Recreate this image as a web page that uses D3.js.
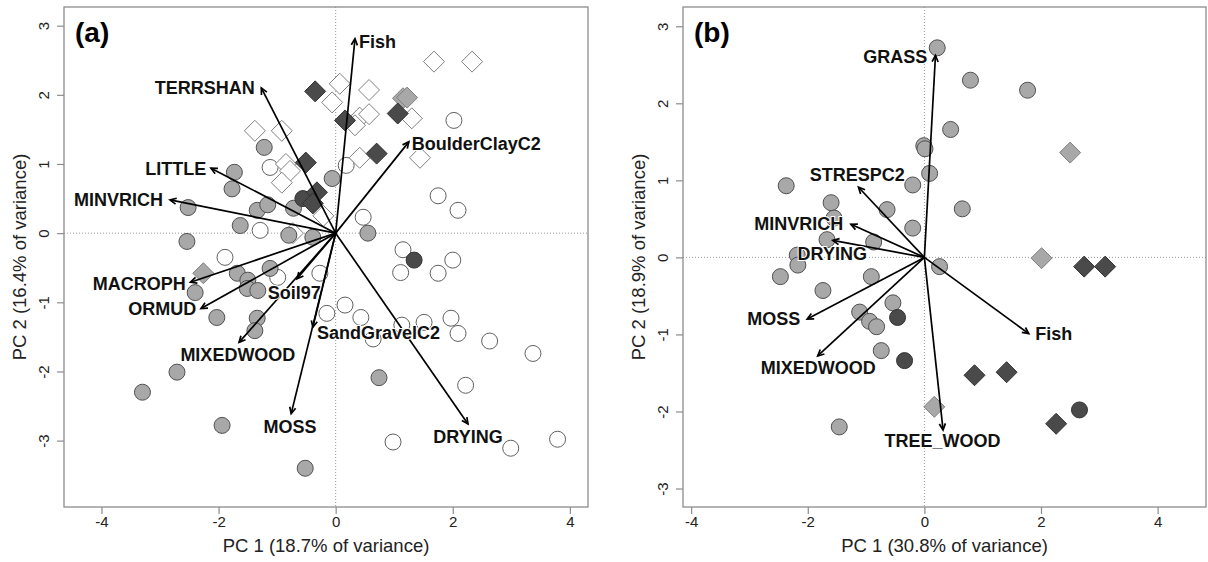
<!DOCTYPE html>
<html>
<head>
<meta charset="utf-8">
<script src="https://cdn.jsdelivr.net/npm/d3@7"></script>
<style>
body { margin: 0; background: #fff; }
svg text { font-family: "Liberation Sans", Arial, sans-serif; }
</style>
</head>
<body>
<div id="chart"></div>
<script>
// ---- panel (a): site scores [PC1, PC2] ----
var aOpenCircle = [[2.02,1.63],[-1.12,0.95],[0.18,0.98],[1.75,0.54],[2.09,0.33],[0.47,0.23],[-1.29,0.04],
	[-1.89,-0.35],[-0.99,-0.64],[-0.27,-0.58],[1.15,-0.24],[1.11,-0.57],[1.75,-0.58],[2.00,-0.39],
	[0.16,-1.04],[-0.15,-1.16],[0.43,-1.22],[1.13,-1.33],[1.51,-1.29],[1.97,-1.23],[2.09,-1.45],
	[0.64,-1.53],[2.63,-1.56],[3.37,-1.74],[2.22,-2.20],[0.98,-3.02],[2.99,-3.11],[3.79,-2.98]];
var aGreyCircle = [[-1.22,1.24],[-1.73,0.88],[-1.77,0.64],[-2.52,0.37],[-1.34,0.33],[-1.16,0.41],[-1.63,0.11],
	[-2.54,-0.12],[-0.06,0.79],[0.55,0.00],[-0.80,-0.03],[-0.39,-0.06],[-0.72,0.36],[-1.68,-0.58],
	[-1.50,-0.68],[-1.51,-0.80],[-1.33,-0.83],[-1.12,-0.51],[-2.40,-0.86],[-2.03,-1.22],[-1.34,-1.23],
	[-1.38,-1.41],[-2.71,-2.01],[-3.30,-2.30],[-1.94,-2.78],[-0.52,-3.40],[0.74,-2.09]];
var aDarkCircle = [[-0.56,0.50],[1.34,-0.39]];
var aOpenDiamond = [[1.68,2.48],[2.33,2.48],[0.07,2.16],[0.57,2.07],[-0.06,1.89],[0.41,1.67],[0.57,1.72],
	[0.33,1.56],[1.30,1.66],[0.41,1.09],[1.44,1.09],[-1.38,1.48],[-0.92,1.48],[-0.85,1.00],
	[-0.78,0.90],[-0.92,0.73],[-0.73,0.00],[-0.21,0.25]];
var aGreyDiamond = [[1.15,1.95],[1.22,1.96],[-2.26,-0.58]];
var aDarkDiamond = [[-0.35,2.05],[0.16,1.63],[1.06,1.73],[0.70,1.15],[-0.51,1.02],[-0.32,0.59],[-0.39,0.43]];

// panel (a): variable loadings (arrow tips)
var aVars  = ["Fish","TERRSHAN","BoulderClayC2","LITTLE","MINVRICH","MACROPH","ORMUD","Soil97","MIXEDWOOD","SandGravelC2","MOSS","DRYING"];
var aLoad1 = [0.33,-1.27,1.25,-2.13,-2.83,-2.48,-2.30,-0.66,-1.65,-0.39,-0.76,2.26];
var aLoad2 = [2.81,2.10,1.32,0.94,0.48,-0.71,-1.09,-0.66,-1.58,-1.36,-2.61,-2.76];

// ---- panel (b) ----
var bGreyCircle = [[0.22,2.72],[-0.01,1.45],[0.01,1.41],[0.09,1.09],[-2.37,0.93],[-0.20,0.94],[-1.60,0.71],
	[-0.64,0.62],[-1.55,0.51],[-0.20,0.38],[-0.87,0.20],[-1.67,0.23],[-2.18,0.03],[-2.17,-0.10],
	[-2.47,-0.25],[-0.91,-0.25],[0.79,2.30],[1.77,2.17],[0.45,1.66],[0.65,0.63],[0.26,-0.12],
	[-1.74,-0.43],[-0.54,-0.59],[-1.11,-0.71],[-0.94,-0.83],[-0.82,-0.90],[-0.74,-1.21],[-1.46,-2.20]];
var bDarkCircle = [[-0.46,-0.78],[-0.34,-1.34],[2.66,-1.98]];
var bGreyDiamond = [[2.50,1.36],[2.01,-0.01],[0.17,-1.94]];
var bDarkDiamond = [[2.74,-0.12],[3.10,-0.12],[0.86,-1.53],[1.41,-1.49],[2.26,-2.16]];

var bVars  = ["GRASS","STRESPC2","MINVRICH","DRYING","MOSS","MIXEDWOOD","TREE_WOOD","Fish"];
var bLoad1 = [0.19,-1.13,-1.26,-1.57,-2.01,-1.83,0.32,1.79];
var bLoad2 = [2.62,0.91,0.43,0.22,-0.80,-1.28,-2.24,-0.99];

var xTicks = [-4,-2,0,2,4];
var yTicks = [-3,-2,-1,0,1,2,3];
var aTitles = ["PC 1 (18.7% of variance)", "PC 2 (16.4% of variance)"];
var bTitles = ["PC 1 (30.8% of variance)", "PC 2 (18.9% of variance)"];

// label placement (data units + anchor), hand tuned to keep clear of arrows
var aLabelPos = [[0.40,2.77,"start"],[-1.38,2.10,"end"],[1.30,1.30,"start"],[-2.21,0.94,"end"],
	[-2.95,0.48,"end"],[-2.56,-0.73,"end"],[-2.38,-1.09,"end"],[-1.16,-0.86,"start"],
	[-1.67,-1.75,"middle"],[-0.32,-1.43,"start"],[-0.78,-2.79,"middle"],[2.26,-2.94,"middle"]];
var bLabelPos = [[0.05,2.61,"end"],[-1.15,1.07,"middle"],[-1.39,0.44,"end"],[-1.58,0.05,"middle"],
	[-2.13,-0.79,"end"],[-1.82,-1.43,"middle"],[0.31,-2.38,"middle"],[1.90,-0.99,"start"]];

var fills = {
	open: {fill: "#ffffff", stroke: "#606060"},
	openD: {fill: "#ffffff", stroke: "#808080"},
	grey: {fill: "#a8a8a8", stroke: "#505050"},
	greyD: {fill: "#a8a8a8", stroke: "#808080"},
	dark: {fill: "#4a4a4a", stroke: "#333333"}
};

var svg = d3.select("#chart").append("svg")
	.attr("width", 1208).attr("height", 562);

function drawPanel(p){
	var x = d3.scaleLinear().domain(p.xlim).range([p.box.left, p.box.right]);
	var y = d3.scaleLinear().domain(p.ylim).range([p.box.bottom, p.box.top]);
	var g = svg.append("g");

	// dotted zero lines
	g.append("line").attr("x1", x(0)).attr("x2", x(0)).attr("y1", p.box.top).attr("y2", p.box.bottom)
		.attr("stroke", "#9a9a9a").attr("stroke-width", 1).attr("stroke-dasharray", "1,2");
	g.append("line").attr("y1", y(0)).attr("y2", y(0)).attr("x1", p.box.left).attr("x2", p.box.right)
		.attr("stroke", "#9a9a9a").attr("stroke-width", 1).attr("stroke-dasharray", "1,2");

	// points
	p.groups.forEach(function(grp){
		var st = fills[grp.style];
		var sel = g.selectAll(null).data(grp.pts).enter();
		if(grp.shape == "circle"){
			sel.append("circle")
				.attr("cx", d => x(d[0])).attr("cy", d => y(d[1])).attr("r", 8)
				.attr("fill", st.fill).attr("stroke", st.stroke).attr("stroke-width", 1);
		} else {
			var s = 10.5;
			sel.append("path")
				.attr("d", d => "M" + x(d[0]) + "," + (y(d[1]) - s) + "l" + s + "," + s + "l" + (-s) + "," + s + "l" + (-s) + "," + (-s) + "z")
				.attr("fill", st.fill).attr("stroke", st.stroke).attr("stroke-width", 1);
		}
	});

	// arrows
	var head = 7, ang = 0.45;
	p.vars.forEach(function(v, i){
		var x1 = x(p.load1[i]), y1 = y(p.load2[i]);
		var x0 = x(0), y0 = y(0);
		var a = Math.atan2(y1 - y0, x1 - x0);
		g.append("line").attr("x1", x0).attr("y1", y0).attr("x2", x1).attr("y2", y1)
			.attr("stroke", "black").attr("stroke-width", 1.7);
		g.append("path")
			.attr("d", "M" + (x1 - head*Math.cos(a - ang)) + "," + (y1 - head*Math.sin(a - ang)) +
				"L" + x1 + "," + y1 +
				"L" + (x1 - head*Math.cos(a + ang)) + "," + (y1 - head*Math.sin(a + ang)))
			.attr("fill", "none").attr("stroke", "black").attr("stroke-width", 1.7);
	});

	// variable labels
	g.selectAll(null).data(p.vars).enter().append("text")
		.attr("x", (d,i) => x(p.labels[i][0]))
		.attr("y", (d,i) => y(p.labels[i][1]))
		.attr("dy", "0.36em")
		.attr("text-anchor", (d,i) => p.labels[i][2])
		.attr("font-size", "18px").attr("font-weight", "bold")
		.attr("fill", "#111")
		.attr("stroke", "white").attr("stroke-width", 2).attr("paint-order", "stroke")
		.text(d => d);

	// box
	g.append("rect").attr("x", p.box.left).attr("y", p.box.top)
		.attr("width", p.box.right - p.box.left).attr("height", p.box.bottom - p.box.top)
		.attr("fill", "none").attr("stroke", "#8c8c8c").attr("stroke-width", 1.3);

	// axes
	var ax = g.append("g").attr("transform", "translate(0," + p.box.bottom + ")")
		.call(d3.axisBottom(x).tickValues(xTicks).tickSize(7).tickPadding(2).tickFormat(d => String(d)));
	var ay = g.append("g").attr("transform", "translate(" + p.box.left + ",0)")
		.call(d3.axisLeft(y).tickValues(yTicks).tickSize(7).tickFormat(d => String(d)));
	[ax, ay].forEach(function(a){
		a.select(".domain").remove();
		a.selectAll("line").attr("stroke", "#8c8c8c").attr("stroke-width", 1.2);
		a.selectAll("text").attr("font-size", "15px").attr("fill", "#222")
			.attr("font-family", "'Liberation Sans', Arial, sans-serif");
	});
	ay.selectAll("text")
		.attr("x", null).attr("dy", null)
		.attr("text-anchor", "middle").attr("dominant-baseline", "central")
		.attr("transform", "translate(-21,0) rotate(-90)");

	// axis titles
	g.append("text")
		.attr("x", (p.box.left + p.box.right)/2).attr("y", 552)
		.attr("text-anchor", "middle").attr("font-size", "18.5px").attr("fill", "#222")
		.text(p.titles[0]);
	g.append("text")
		.attr("transform", "translate(" + (p.box.left - 45) + "," + ((p.box.top + p.box.bottom)/2) + ") rotate(-90)")
		.attr("text-anchor", "middle").attr("dominant-baseline", "central")
		.attr("font-size", "18.5px").attr("fill", "#222")
		.text(p.titles[1]);

	// panel letter
	g.append("text")
		.attr("x", p.box.left + 11).attr("y", 42)
		.attr("font-family", "Lato, 'Open Sans', sans-serif")
		.attr("font-size", "28px").attr("font-weight", "bold").attr("fill", "black")
		.text(p.letter);
}

drawPanel({
	box: {left: 64, right: 588, top: 7, bottom: 507},
	xlim: [-4.64, 4.31], ylim: [-3.96, 3.27],
	groups: [
		{pts: aOpenCircle, shape: "circle", style: "open"},
		{pts: aOpenDiamond, shape: "diamond", style: "openD"},
		{pts: aGreyCircle, shape: "circle", style: "grey"},
		{pts: aGreyDiamond, shape: "diamond", style: "greyD"},
		{pts: aDarkCircle, shape: "circle", style: "dark"},
		{pts: aDarkDiamond, shape: "diamond", style: "dark"}
	],
	vars: aVars, load1: aLoad1, load2: aLoad2, labels: aLabelPos,
	titles: aTitles, letter: "(a)"
});

drawPanel({
	box: {left: 683, right: 1206, top: 7, bottom: 507},
	xlim: [-4.14, 4.83], ylim: [-3.24, 3.25],
	groups: [
		{pts: bGreyCircle, shape: "circle", style: "grey"},
		{pts: bGreyDiamond, shape: "diamond", style: "greyD"},
		{pts: bDarkCircle, shape: "circle", style: "dark"},
		{pts: bDarkDiamond, shape: "diamond", style: "dark"}
	],
	vars: bVars, load1: bLoad1, load2: bLoad2, labels: bLabelPos,
	titles: bTitles, letter: "(b)"
});
</script>
</body>
</html>
